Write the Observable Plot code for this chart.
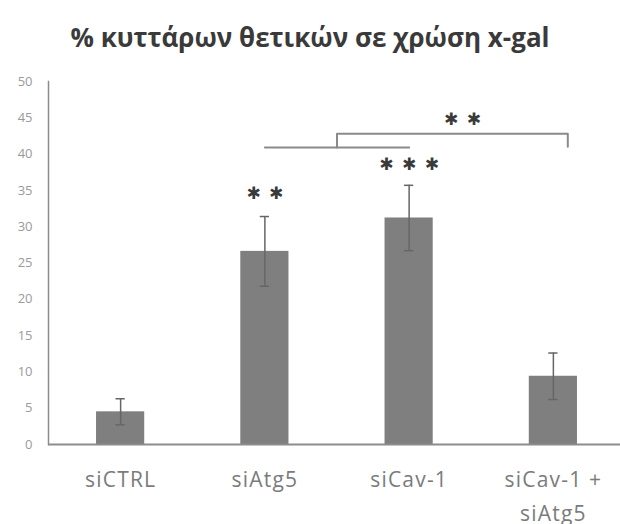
<!DOCTYPE html>
<html>
<head>
<meta charset="utf-8">
<script src="https://cdn.jsdelivr.net/npm/d3@7"></script>
<script src="https://cdn.jsdelivr.net/npm/@observablehq/plot@0.6"></script>
<style>
  html, body { margin: 0; padding: 0; background: #fff; }
  #title {
    box-sizing: border-box; height: 62px; padding-top: 20px; width: 620px;
    text-align: center; font-family: "Open Sans", sans-serif; font-weight: 700;
    font-size: 26px; color: #3a3a3a; line-height: 1.362; white-space: nowrap; overflow: visible;
  }
</style>
</head>
<body>
<div id="title">% κυττάρων θετικών σε χρώση x-gal</div>
<div id="chart"></div>
<script>
// ---- data ----
const categories = ["siCTRL", "siAtg5", "siCav-1", "siCav-1 +\nsiAtg5"];
const values = [4.5, 26.6, 31.2, 9.4];
const errors = [1.8, 4.8, 4.5, 3.2];
const yTicks = [0, 5, 10, 15, 20, 25, 30, 35, 40, 45, 50];

// significance annotations (x in category index units, y in % units)
const pairLineX = [1, 2];
const pairLineY = [40.9, 40.9];
const bracketX = [1.5, 1.5, 3.1, 3.1];
const bracketY = [40.9, 42.8, 42.8, 41.0];
const starText = ["✱\u2002✱", "✱\u2002✱\u2002✱", "✱\u2002✱"];
const starX = [2.37, 2, 1];
const starY = [44.8, 38.6, 34.6];

const bars = categories.map((c, i) => ({i, name: c, value: values[i], err: errors[i]}));
const pairLine = pairLineX.map((x, k) => ({x, y: pairLineY[k]}));
const bracket = bracketX.map((x, k) => ({x, y: bracketY[k]}));
const stars = starText.map((t, k) => ({t, x: starX[k], y: starY[k]}));

const barHalf = 0.167, capHalf = 0.032;

const chart = Plot.plot({
  width: 620,
  height: 462,
  marginTop: 19,
  marginBottom: 80,
  marginLeft: 48,
  marginRight: 0,
  style: {fontFamily: "Open Sans, sans-serif", background: "#fff"},
  x: {type: "linear", domain: [-0.5, 3.5], range: [48, 625]},
  y: {domain: [0, 50]},
  marks: [
    Plot.rectY(bars, {x1: d => d.i - barHalf, x2: d => d.i + barHalf, y: "value", fill: "#7f7f7f"}),
    Plot.ruleX(bars, {x: "i", y1: d => d.value - d.err, y2: d => d.value + d.err, stroke: "#666", strokeWidth: 1.5}),
    Plot.ruleY(bars, {y: d => d.value + d.err, x1: d => d.i - capHalf, x2: d => d.i + capHalf, stroke: "#666", strokeWidth: 1.5}),
    Plot.ruleY(bars, {y: d => d.value - d.err, x1: d => d.i - capHalf, x2: d => d.i + capHalf, stroke: "#666", strokeWidth: 1.5}),
    Plot.line(pairLine, {x: "x", y: "y", stroke: "#8a8a8a", strokeWidth: 2}),
    Plot.line(bracket, {x: "x", y: "y", stroke: "#8a8a8a", strokeWidth: 2}),
    Plot.text(stars, {x: "x", y: "y", text: "t", fontSize: 17, fill: "#3a3a3a", fontFamily: "DejaVu Sans"}),
    Plot.frame({anchor: "left", stroke: "#8c8c8c", strokeWidth: 1.5}),
    Plot.ruleY([0], {stroke: "#8c8c8c", strokeWidth: 2}),
    Plot.axisY({ticks: yTicks, tickSize: 0, tickPadding: 16, fontSize: 13, fill: "#9a9a9a", label: null}),
    Plot.axisX({ticks: [0, 1, 2, 3], tickFormat: i => categories[i], tickSize: 0, tickPadding: 19,
      fontSize: 21, lineHeight: 1.6, fill: "#7b7b7b", label: null})
  ]
});
d3.select(chart).selectAll('g[aria-label="x-axis tick label"] text').style("letter-spacing", "1.2px");
document.getElementById("chart").appendChild(chart);
</script>
</body>
</html>
